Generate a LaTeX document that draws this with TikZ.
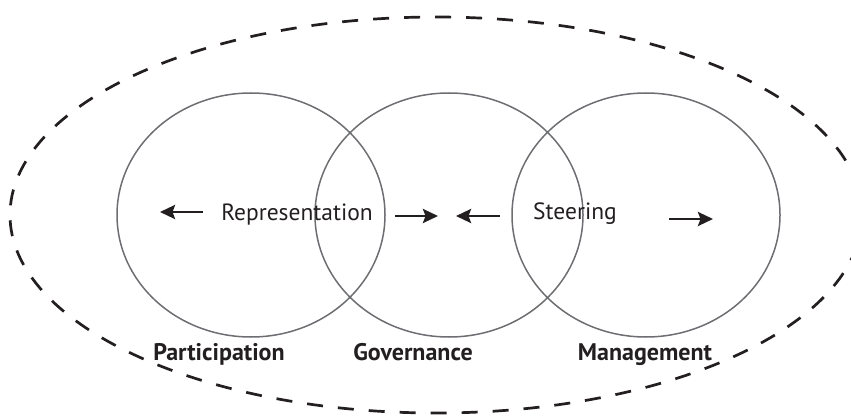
\documentclass[tikz,border=0pt]{standalone}
\usepackage{fontspec}
\setmainfont{PT Sans}
\usetikzlibrary{arrows.meta}
\definecolor{ink}{HTML}{231F20}
\definecolor{ringgray}{HTML}{6D6E71}
\begin{document}
\begin{tikzpicture}[x=1pt,y=-1pt,
  ring/.style={draw=ringgray, line width=1.5pt},
  boundary/.style={draw=ink, line width=2.7pt, dash pattern=on 16pt off 15pt},
  flow/.style={draw=ink, line width=2.7pt, -{Stealth[length=15pt,width=14pt,inset=2.5pt]}},
  rolelabel/.style={text=ink, font=\fontsize{23.5}{26}\selectfont, inner sep=0pt, anchor=base},
  arealabel/.style={text=ink, font=\bfseries\fontsize{24}{26}\selectfont, inner sep=0pt, anchor=base}]
\useasboundingbox (0,0) rectangle (851,417);
% outer dashed boundary
\path[boundary] (436,215) ellipse [x radius=426, y radius=198];
% the three overlapping domains
\path[ring] (251,215) ellipse [x radius=134, y radius=122];
\path[ring] (449,215) ellipse [x radius=134, y radius=122];
\path[ring] (646,215) ellipse [x radius=134, y radius=122];
% inner labels
\node[rolelabel] (repr) at (297,220) {Representation};
\node[rolelabel] (steer) at (575,219) {Steering};
% domain names
\node[arealabel] (part) at (219,360) {Participation};
\node[arealabel] (gov) at (413,360) {Governance};
\node[arealabel] (man) at (645,360) {Management};
% direction arrows
\coordinate (a1s) at (203,212); \coordinate (a1e) at (160,212);
\coordinate (a2s) at (395,216); \coordinate (a2e) at (438,216);
\coordinate (a3s) at (500,216); \coordinate (a3e) at (456,216);
\coordinate (a4s) at (669,219); \coordinate (a4e) at (713,219);
\draw[flow] (a1s) -- (a1e);
\draw[flow] (a2s) -- (a2e);
\draw[flow] (a3s) -- (a3e);
\draw[flow] (a4s) -- (a4e);
\end{tikzpicture}
\end{document}
